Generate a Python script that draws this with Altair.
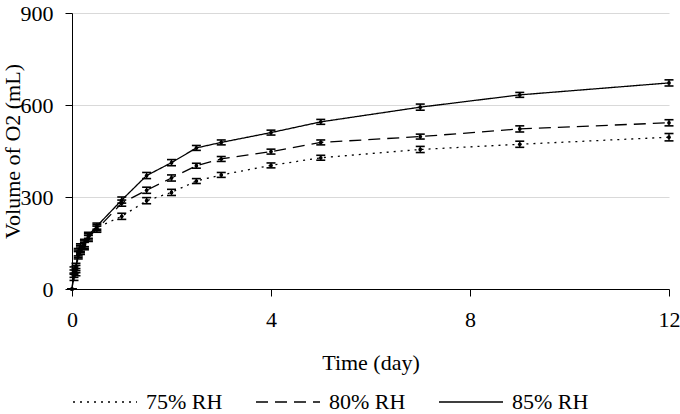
import altair as alt
import pandas as pd

series = ["75% RH", "80% RH", "85% RH"]
time = [0, 0.04, 0.08, 0.125, 0.17, 0.25, 0.33, 0.5, 1, 1.5, 2, 2.5, 3, 4, 5, 7, 9, 12]
v75 = [0, 40, 55, 110, 125, 140, 165, 200, 237, 288, 315, 352, 372, 403, 428, 455, 472, 495]
v80 = [0, 50, 65, 115, 130, 145, 170, 195, 280, 322, 362, 402, 424, 448, 478, 497, 522, 542]
v85 = [0, 60, 72, 120, 135, 150, 175, 205, 290, 370, 412, 460, 478, 510, 545, 593, 633, 672]
e75 = [0, 12, 12, 12, 12, 12, 10, 10, 10, 10, 10, 8, 8, 8, 8, 10, 10, 12]
e80 = [0, 12, 12, 12, 12, 12, 10, 10, 10, 10, 10, 8, 8, 8, 8, 8, 10, 10]
e85 = [0, 12, 12, 12, 12, 12, 10, 10, 10, 10, 10, 8, 8, 8, 8, 10, 8, 10]
x_ticks = [0, 4, 8, 12]
y_ticks = [0, 300, 600, 900]

rows = []
for name, vals, errs in zip(series, [v75, v80, v85], [e75, e80, e85]):
    for t, v, e in zip(time, vals, errs):
        rows.append({"series": name, "time": t, "value": v, "lo": v - e, "hi": v + e})
df = pd.DataFrame(rows)

FONT = "Liberation Serif, Times New Roman, serif"

x = alt.X("time:Q", scale=alt.Scale(domain=[0, 12], nice=False),
          axis=alt.Axis(values=x_ticks, title="Time (day)", grid=False,
                        tickSize=7, labelPadding=13, titleY=63,
                        labelFlush=False, format="d"))
y = alt.Y("value:Q", scale=alt.Scale(domain=[0, 900], nice=False),
          axis=alt.Axis(values=y_ticks, title="Volume of O2 (mL)", grid=True,
                        tickSize=7, labelPadding=12, titleX=-48,
                        labelFlush=False))

dash = alt.StrokeDash("series:N",
                      scale=alt.Scale(domain=series, range=[[2, 5], [12, 7], [1, 0]]),
                      legend=alt.Legend(orient="none", legendX=0, legendY=356,
                                        direction="horizontal", title=None,
                                        symbolType="stroke", symbolSize=4096,
                                        symbolStrokeWidth=1.3, symbolStrokeColor="black",
                                        labelFont=FONT, labelFontSize=22, labelColor="black",
                                        labelOffset=8, columnPadding=30))

base = alt.Chart(df)
lines = base.mark_line(color="black", strokeWidth=1.3).encode(x=x, y=y, strokeDash=dash, detail="series:N")
bars = base.mark_rule(color="black", strokeWidth=1.4).encode(x="time:Q", y="lo:Q", y2="hi:Q")
cap_lo = base.mark_tick(color="black", orient="horizontal", size=9, thickness=1.6, opacity=1).encode(x="time:Q", y="lo:Q")
cap_hi = base.mark_tick(color="black", orient="horizontal", size=9, thickness=1.6, opacity=1).encode(x="time:Q", y="hi:Q")
pts = base.mark_point(color="black", filled=True, size=14, opacity=1).encode(x="time:Q", y="value:Q")

chart = alt.layer(lines, bars, cap_lo, cap_hi, pts).properties(
    width=597, height=276,
    autosize=alt.AutoSizeParams(type="none"),
    padding={"left": 72, "top": 13, "right": 11, "bottom": 125},
    background="white",
).configure_view(stroke=None).configure_axis(
    labelFont=FONT, titleFont=FONT, labelFontSize=22, titleFontSize=22,
    labelColor="black", titleColor="black", titleFontWeight="normal",
    domainColor="black", tickColor="black", gridColor="#d9d9d9",
    domainWidth=1, tickWidth=1,
)

chart.save("out.html", embed_options={"renderer": "svg", "actions": False})
